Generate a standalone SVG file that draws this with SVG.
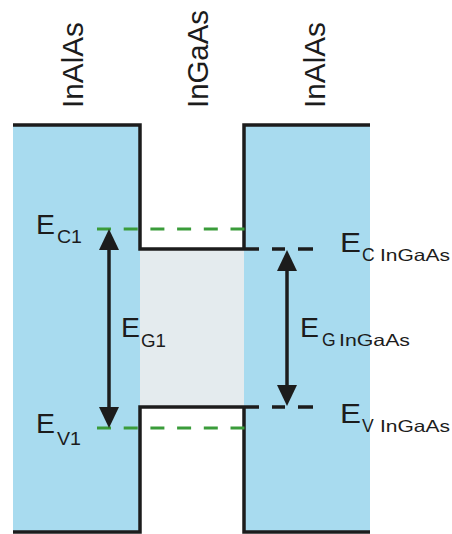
<svg xmlns="http://www.w3.org/2000/svg" width="452" height="534" viewBox="0 0 452 534">
  <style>
    .blue { fill: #a8dbef; }
    .gap { fill: #e4ebee; }
    .edge { fill: none; stroke: #1c1c1c; stroke-width: 3.5; }
    .green { fill: none; stroke: #3a9c3a; stroke-width: 3; stroke-dasharray: 14 12.7; }
    .arrow { stroke: #1c1c1c; stroke-width: 3.5; marker-start: url(#head); marker-end: url(#head); }
    text { font-family: "Liberation Sans", Arial, sans-serif; fill: #1c1c1c; }
    .big { font-size: 28px; }
    .sub { font-size: 17.5px; }
    .subs { font-size: 16.5px; }
    .top { font-size: 30px; }
  </style>
  <defs>
    <marker id="head" markerUnits="userSpaceOnUse" markerWidth="22" markerHeight="22" refX="15" refY="10" orient="auto-start-reverse">
      <path d="M0,0 L21,10 L0,20 Z" fill="#1c1c1c"/>
    </marker>
  </defs>
  <rect width="452" height="534" fill="#ffffff"/>

  <g id="layer-left-InAlAs">
    <rect class="blue" x="13" y="125" width="127" height="407"/>
    <text class="top" transform="translate(83,108) rotate(-90)" textLength="86" lengthAdjust="spacingAndGlyphs">InAlAs</text>
  </g>
  <g id="layer-InGaAs">
    <rect class="gap" x="140" y="249" width="104" height="158"/>
    <text class="top" transform="translate(208,108) rotate(-90)" textLength="98" lengthAdjust="spacingAndGlyphs">InGaAs</text>
  </g>
  <g id="layer-right-InAlAs">
    <rect class="blue" x="244" y="125" width="126" height="407"/>
    <text class="top" transform="translate(325,108) rotate(-90)" textLength="86" lengthAdjust="spacingAndGlyphs">InAlAs</text>
  </g>

  <g id="band-edges">
    <path class="edge" d="M13,125 H140 V249 H259"/>
    <path class="edge" d="M244,249 V125 H370"/>
    <path class="edge" d="M13,532 H140 V407 H259"/>
    <path class="edge" d="M244,407 V532 H370"/>
    <path class="edge" d="M272,249 H285 M298,249 H313 M272,407 H285 M298,407 H313"/>
  </g>

  <g id="levels-InAlAs">
    <path class="green" d="M97,229 H245"/>
    <path class="green" d="M97,428 H245"/>
  </g>

  <g id="connectors">
    <line class="arrow" x1="109" y1="235" x2="109" y2="422"/>
    <line class="arrow" x1="287" y1="256" x2="287" y2="400"/>
  </g>

  <g id="label-EC1">
    <text class="big" x="36" y="234" textLength="19" lengthAdjust="spacingAndGlyphs">E</text>
    <text class="sub" x="57" y="243" textLength="25" lengthAdjust="spacingAndGlyphs">C1</text>
  </g>
  <g id="label-EG1">
    <text class="big" x="121" y="337" textLength="19" lengthAdjust="spacingAndGlyphs">E</text>
    <text class="sub" x="141" y="347" textLength="25" lengthAdjust="spacingAndGlyphs">G1</text>
  </g>
  <g id="label-EV1">
    <text class="big" x="36" y="433" textLength="19" lengthAdjust="spacingAndGlyphs">E</text>
    <text class="sub" x="57" y="445" textLength="24" lengthAdjust="spacingAndGlyphs">V1</text>
  </g>
  <g id="label-EC-InGaAs">
    <text class="big" x="340" y="252" textLength="21" lengthAdjust="spacingAndGlyphs">E</text>
    <text class="sub" x="362" y="261" font-size="18">C</text>
    <text class="subs" x="380" y="261" textLength="70" lengthAdjust="spacingAndGlyphs">InGaAs</text>
  </g>
  <g id="label-EG-InGaAs">
    <text class="big" x="300" y="337" textLength="19" lengthAdjust="spacingAndGlyphs">E</text>
    <text class="sub" x="322" y="346" font-size="18">G</text>
    <text class="subs" x="339" y="346" textLength="71" lengthAdjust="spacingAndGlyphs">InGaAs</text>
  </g>
  <g id="label-EV-InGaAs">
    <text class="big" x="340" y="423" textLength="21" lengthAdjust="spacingAndGlyphs">E</text>
    <text class="sub" x="362" y="432" font-size="18">V</text>
    <text class="subs" x="380" y="432" textLength="70" lengthAdjust="spacingAndGlyphs">InGaAs</text>
  </g>
</svg>
